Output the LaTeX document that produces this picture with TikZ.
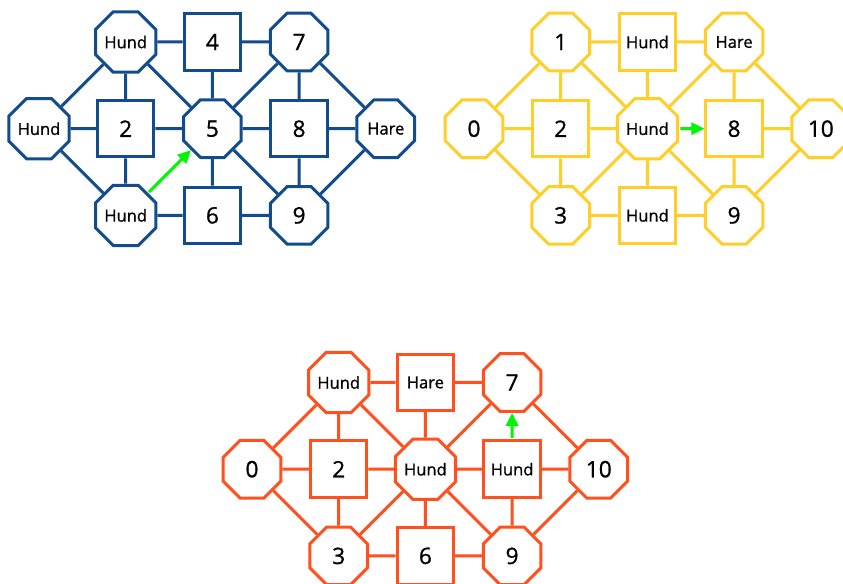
\documentclass[tikz,border=0pt]{standalone}
\usepackage{fontspec}
\setmainfont{Open Sans}
\newfontfamily\cellfont{Open Sans}[FakeBold=0.9]
\usetikzlibrary{shapes.geometric,arrows.meta}

\definecolor{netblue}{RGB}{18,76,140}
\definecolor{netyellow}{RGB}{255,206,40}
\definecolor{netorange}{RGB}{255,80,30}
\definecolor{movegreen}{RGB}{0,245,0}

% full edge set of the board; names: L, A..I, R
\newcommand\boardedges[2]{%
  \foreach \u/\v in {#2}
    \draw[#1] (\u) -- (\v);%
}

\tikzset{
  cell/.style={line width=2.25pt, fill=white, inner sep=0pt, text=black},
  octcell/.style={cell, draw=#1, regular polygon, regular polygon sides=8, minimum size=46.8pt},
  sqcell/.style={cell, draw=#1, rectangle, minimum size=42.3pt},
  word/.style={font=\cellfont\fontsize{12.4}{14}\selectfont},
  num/.style={font=\cellfont\fontsize{17}{19}\selectfont},
  link/.style={line width=2.25pt, draw=#1},
  move/.style={line width=2.25pt, draw=movegreen, -{Triangle[length=9.75pt,width=9pt]}, shorten <=1pt}
}

\begin{document}
\begin{tikzpicture}[x=0.75pt,y=-0.75pt]
\useasboundingbox (0,0) rectangle (843,584);

% ---------- blue board ----------
\begin{scope}[shift={(39,42)}]
  \node[octcell=netblue, word] (L1) at (0,86.7) {Hund};
  \node[octcell=netblue, word] (A1) at (86.7,0) {Hund};
  \node[sqcell=netblue, num]   (B1) at (86.7,86.7) {2};
  \node[octcell=netblue, word] (C1) at (86.7,173.4) {Hund};
  \node[sqcell=netblue, num]   (D1) at (173.4,0) {4};
  \node[octcell=netblue, num]  (E1) at (173.4,86.7) {5};
  \node[sqcell=netblue, num]   (F1) at (173.4,173.4) {6};
  \node[octcell=netblue, num]  (G1) at (260.1,0) {7};
  \node[sqcell=netblue, num]   (H1) at (260.1,86.7) {8};
  \node[octcell=netblue, num]  (I1) at (260.1,173.4) {9};
  \node[octcell=netblue, word] (R1) at (346.8,86.7) {Hare};
\end{scope}
\boardedges{link=netblue}{L1/A1,L1/B1,L1/C1,A1/D1,A1/B1,A1/E1,B1/E1,B1/C1,C1/F1,
  D1/G1,D1/E1,E1/G1,E1/H1,E1/I1,E1/F1,F1/I1,G1/H1,G1/R1,H1/R1,H1/I1,I1/R1}
\draw[move] (C1) -- (E1);

% ---------- yellow board ----------
\begin{scope}[shift={(474,42)}]
  \node[octcell=netyellow, num]  (L2) at (0,86.7) {0};
  \node[octcell=netyellow, num]  (A2) at (86.7,0) {1};
  \node[sqcell=netyellow, num]   (B2) at (86.7,86.7) {2};
  \node[octcell=netyellow, num]  (C2) at (86.7,173.4) {3};
  \node[sqcell=netyellow, word]  (D2) at (173.4,0) {Hund};
  \node[octcell=netyellow, word] (E2) at (173.4,86.7) {Hund};
  \node[sqcell=netyellow, word]  (F2) at (173.4,173.4) {Hund};
  \node[octcell=netyellow, word] (G2) at (260.1,0) {Hare};
  \node[sqcell=netyellow, num]   (H2) at (260.1,86.7) {8};
  \node[octcell=netyellow, num]  (I2) at (260.1,173.4) {9};
  \node[octcell=netyellow, num]  (R2) at (346.8,86.7) {10};
\end{scope}
\boardedges{link=netyellow}{L2/A2,L2/B2,L2/C2,A2/D2,A2/B2,A2/E2,B2/E2,B2/C2,C2/F2,C2/E2,
  D2/G2,D2/E2,E2/G2,E2/I2,E2/F2,F2/I2,G2/H2,G2/R2,H2/R2,H2/I2,I2/R2}
\draw[move] (E2) -- (H2);

% ---------- orange board ----------
\begin{scope}[shift={(252,382.5)}]
  \node[octcell=netorange, num]  (L3) at (0,86.7) {0};
  \node[octcell=netorange, word] (A3) at (86.7,0) {Hund};
  \node[sqcell=netorange, num]   (B3) at (86.7,86.7) {2};
  \node[octcell=netorange, num]  (C3) at (86.7,173.4) {3};
  \node[sqcell=netorange, word]  (D3) at (173.4,0) {Hare};
  \node[octcell=netorange, word] (E3) at (173.4,86.7) {Hund};
  \node[sqcell=netorange, num]   (F3) at (173.4,173.4) {6};
  \node[octcell=netorange, num]  (G3) at (260.1,0) {7};
  \node[sqcell=netorange, word]  (H3) at (260.1,86.7) {Hund};
  \node[octcell=netorange, num]  (I3) at (260.1,173.4) {9};
  \node[octcell=netorange, num]  (R3) at (346.8,86.7) {10};
\end{scope}
\boardedges{link=netorange}{L3/A3,L3/B3,L3/C3,A3/D3,A3/B3,A3/E3,B3/E3,B3/C3,C3/F3,C3/E3,
  D3/G3,D3/E3,E3/G3,E3/H3,E3/I3,E3/F3,F3/I3,G3/R3,H3/R3,H3/I3,I3/R3}
\draw[move] (H3) -- (G3);
\end{tikzpicture}
\end{document}
